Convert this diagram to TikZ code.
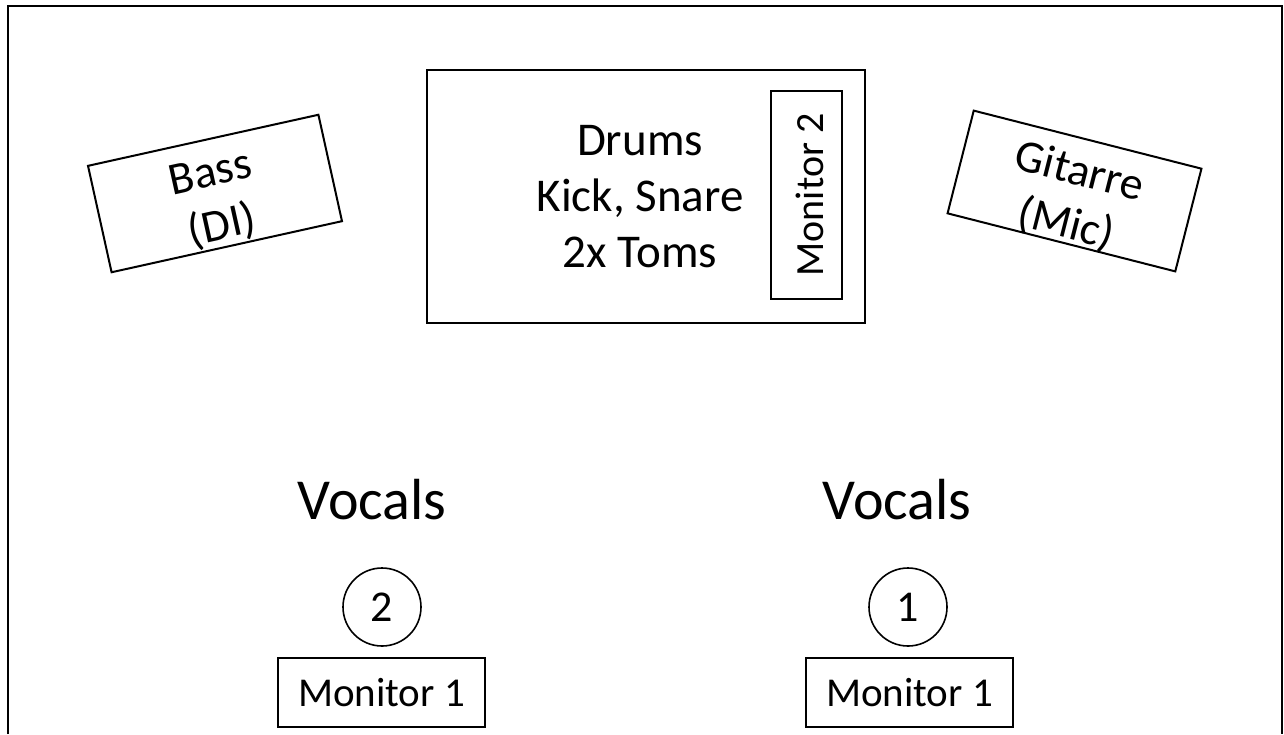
\documentclass[tikz,border=0pt]{standalone}
\usepackage{fontspec}
\setmainfont{Carlito}
\usetikzlibrary{calc}

\begin{document}
\begin{tikzpicture}[x=1pt,y=-1pt,
              box/.style={draw,line width=2pt,inner sep=0pt},
              ring/.style={circle,draw,line width=1.6pt,minimum size=78pt,inner sep=0pt,
                font=\fontsize{44}{52}\selectfont},
              big/.style={font=\fontsize{58}{70}\selectfont},
              mid/.style={align=center,font=\fontsize{46}{54}\selectfont},
              small/.style={font=\fontsize{41}{48}\selectfont}]
  \useasboundingbox (0,0) rectangle (1284,734);
  % stage edge, open towards the audience
  \draw[line width=2.5pt] (8,734) -- (8,6) -- (1282,6) -- (1282,734);
  % drum riser with side monitor
  \node[box,minimum width=438pt,minimum height=253pt] (Drums) at (646,196.5) {};
  \node[mid,font=\fontsize{47}{56}\selectfont] (DrumsTxt) at (640,197) {Drums\\Kick, Snare\\2x Toms};
  \node[box,minimum width=71pt,minimum height=208pt] (Mon2) at (806.5,195) {};
  \node[small,rotate=90,font=\fontsize{40}{48}\selectfont] (Mon2Txt) at ($(Mon2.center)+(3,0)$) {Monitor 2};
  % amps
  \node[box,rotate=12.5,minimum width=236pt,minimum height=109pt] (Bass) at (215,193.5) {};
  \node[mid,rotate=12.5] (BassTxt) at ($(Bass.center)!0.14!(Bass.south)$) {Bass\\(DI)};
  \node[box,rotate=-14.3,minimum width=235pt,minimum height=106pt] (Git) at (1074.5,191) {};
  \node[mid,rotate=-14.3] (GitTxt) at ($(Git.center)!0.15!(Git.south)$) {Gitarre\\(Mic)};
  % vocals
  \node[big] (VocL) at (372,500) {Vocals};
  \node[big] (VocR) at (897,500) {Vocals};
  \node[ring] (V2) at (382,607) {2};
  \node[ring] (V1) at (908,607) {1};
  \node[box,small,minimum width=207pt,minimum height=69pt] (MonL) at (381.5,692.5) {Monitor 1};
  \node[box,small,minimum width=207pt,minimum height=69pt] (MonR) at (909.5,692.5) {Monitor 1};
\end{tikzpicture}
\end{document}
